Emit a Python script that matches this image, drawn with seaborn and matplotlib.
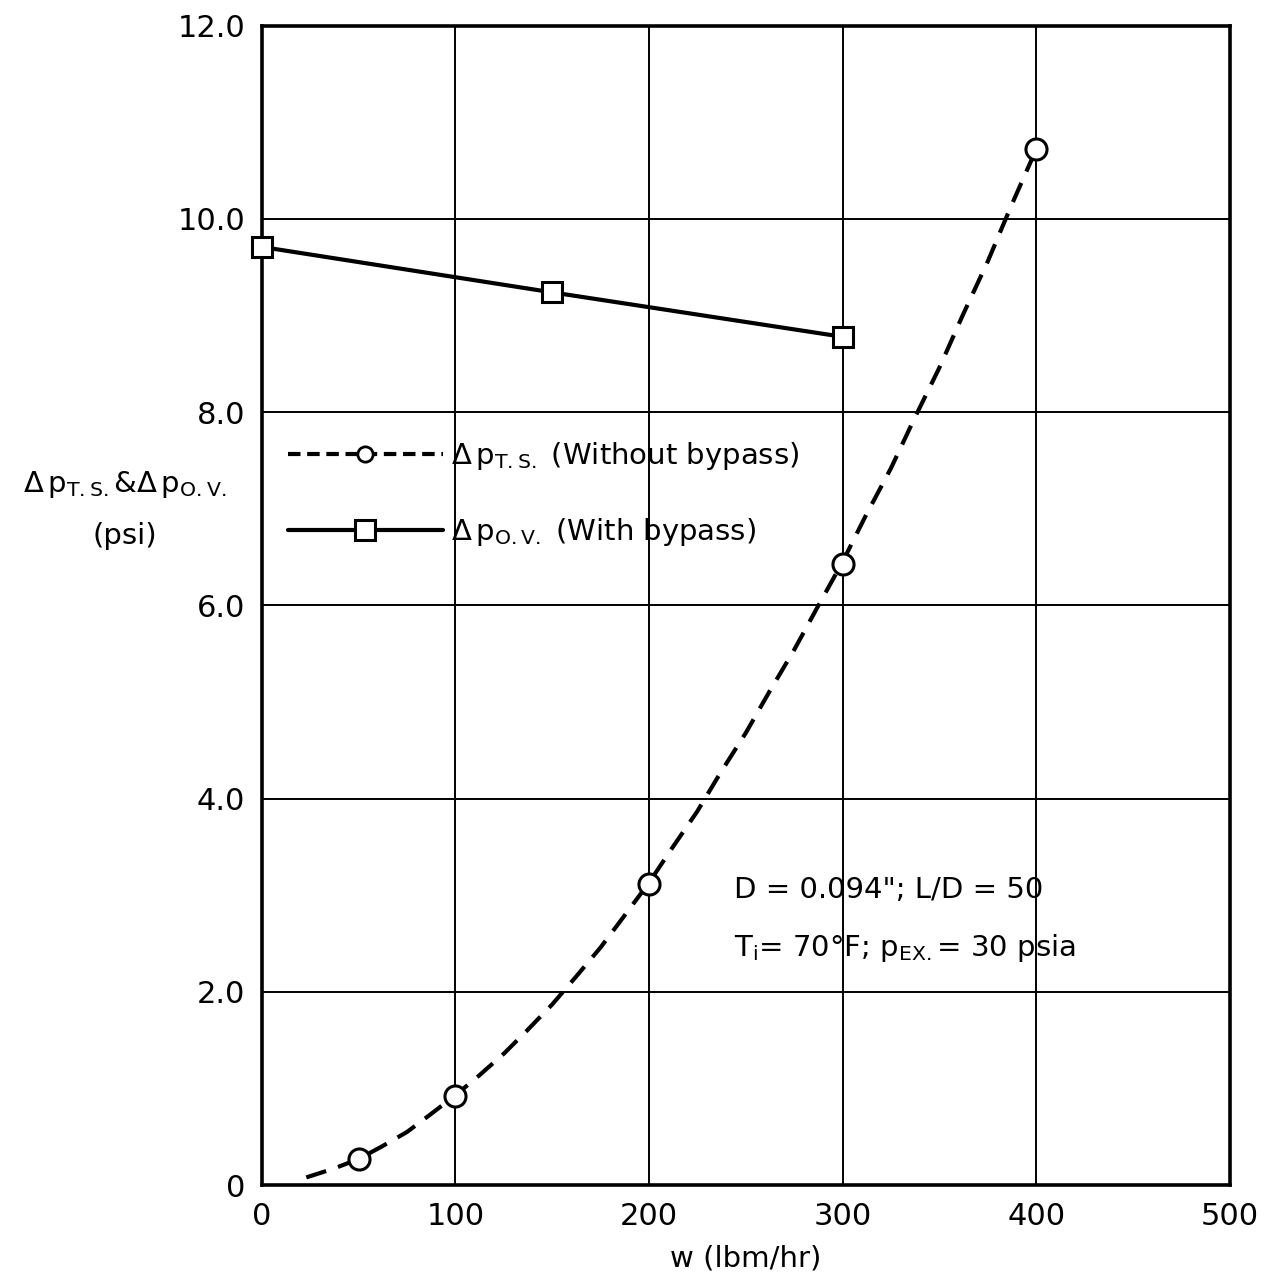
import numpy as np
import pandas as pd
import seaborn as sns
import matplotlib.pyplot as plt
from matplotlib.lines import Line2D

# measured points, no bypass (circles)
w_ts = [50, 100, 200, 300, 400]
dp_ts = [0.27, 0.92, 3.12, 6.43, 10.72]

# faired curve through them
w_curve = [23, 37, 50, 62, 75, 87, 100, 112, 125, 137, 150, 162, 175, 187, 200,
           212, 225, 237, 250, 262, 275, 287, 300, 312, 325, 337, 350, 362, 375, 387, 400]
dp_curve = [0.08, 0.17, 0.27, 0.40, 0.55, 0.73, 0.93, 1.13, 1.36, 1.60, 1.87, 2.15, 2.46, 2.78, 3.13,
            3.49, 3.87, 4.27, 4.68, 5.10, 5.54, 5.98, 6.45, 6.93, 7.42, 7.93, 8.46, 9.00, 9.56, 10.13, 10.72]

# with bypass (squares)
w_ov = [0, 150, 300]
dp_ov = [9.71, 9.24, 8.78]

x_ticks = [0, 100, 200, 300, 400, 500]
y_ticks = [0, 2, 4, 6, 8, 10, 12]
y_ticklabels = ["0", "2.0", "4.0", "6.0", "8.0", "10.0", "12.0"]

sns.set_theme(style="white")
plt.rcParams['font.family'] = ['DejaVu Sans']
plt.rcParams['mathtext.fontset'] = 'dejavusans'
plt.rcParams['text.color'] = 'black'

fig = plt.figure(figsize=(12.77, 12.84), dpi=100)
ax = fig.add_axes([0.205, 0.077, 0.758, 0.903])

curve = pd.DataFrame({"w": w_curve, "dp": dp_curve})
ts = pd.DataFrame({"w": w_ts, "dp": dp_ts})
ov = pd.DataFrame({"w": w_ov, "dp": dp_ov})

sns.lineplot(data=curve, x="w", y="dp", ax=ax, color="black", lw=3,
             linestyle=(0, (5, 3)), zorder=3)
sns.scatterplot(data=ts, x="w", y="dp", ax=ax, marker="o", s=230,
                facecolor="white", edgecolor="black", linewidth=2.2, zorder=4)
sns.lineplot(data=ov, x="w", y="dp", ax=ax, color="black", lw=3,
             marker="s", markersize=15, markerfacecolor="white",
             markeredgecolor="black", markeredgewidth=2.2, zorder=4, clip_on=False)

ax.set_xlim(0, 500)
ax.set_ylim(0, 12)
ax.set_xticks(x_ticks)
ax.set_xticklabels([str(t) for t in x_ticks])
ax.set_yticks(y_ticks)
ax.set_yticklabels(y_ticklabels)
ax.tick_params(labelsize=22, length=0, pad=12, colors="black")
ax.grid(True, color="black", lw=1.4)
for s in ax.spines.values():
    s.set_color("black")
    s.set_linewidth(2.6)
    s.set_zorder(2)

ax.set_xlabel("w (lbm/hr)", fontsize=21, color="black", labelpad=10)
ax.set_ylabel(r"$\Delta\,\mathrm{p}_{\mathrm{T.S.}}$&$\Delta\,\mathrm{p}_{\mathrm{O.V.}}$" + "\n(psi)",
              fontsize=21, color="black", rotation=0, ha="center", va="center",
              linespacing=2.0)
ax.yaxis.set_label_coords(-0.142, 0.583)

handles = [
    Line2D([], [], color="black", lw=3, linestyle=(0, (3, 1.6)), marker="o",
           markersize=11, markerfacecolor="white", markeredgecolor="black", markeredgewidth=2),
    Line2D([], [], color="black", lw=3, marker="s", markersize=15,
           markerfacecolor="white", markeredgecolor="black", markeredgewidth=2.2),
]
labels = [r"$\Delta\,\mathrm{p}_{\mathrm{T.S.}}$ (Without bypass)",
          r"$\Delta\,\mathrm{p}_{\mathrm{O.V.}}$ (With bypass)"]
leg = ax.legend(handles, labels, loc="upper left", bbox_to_anchor=(0.0, 0.665),
                frameon=False, fontsize=21, handlelength=5.3, numpoints=1,
                labelspacing=1.5, handletextpad=0.3, labelcolor="black")

ax.text(244, 3.05, "D = 0.094\"; L/D = 50", fontsize=21, color="black", va="center")
ax.text(244, 2.45, r"T$_\mathrm{i}$= 70°F; p$_\mathrm{EX.}$= 30 psia", fontsize=21,
        color="black", va="center")

fig.savefig("out.png", dpi=100, facecolor="white")
